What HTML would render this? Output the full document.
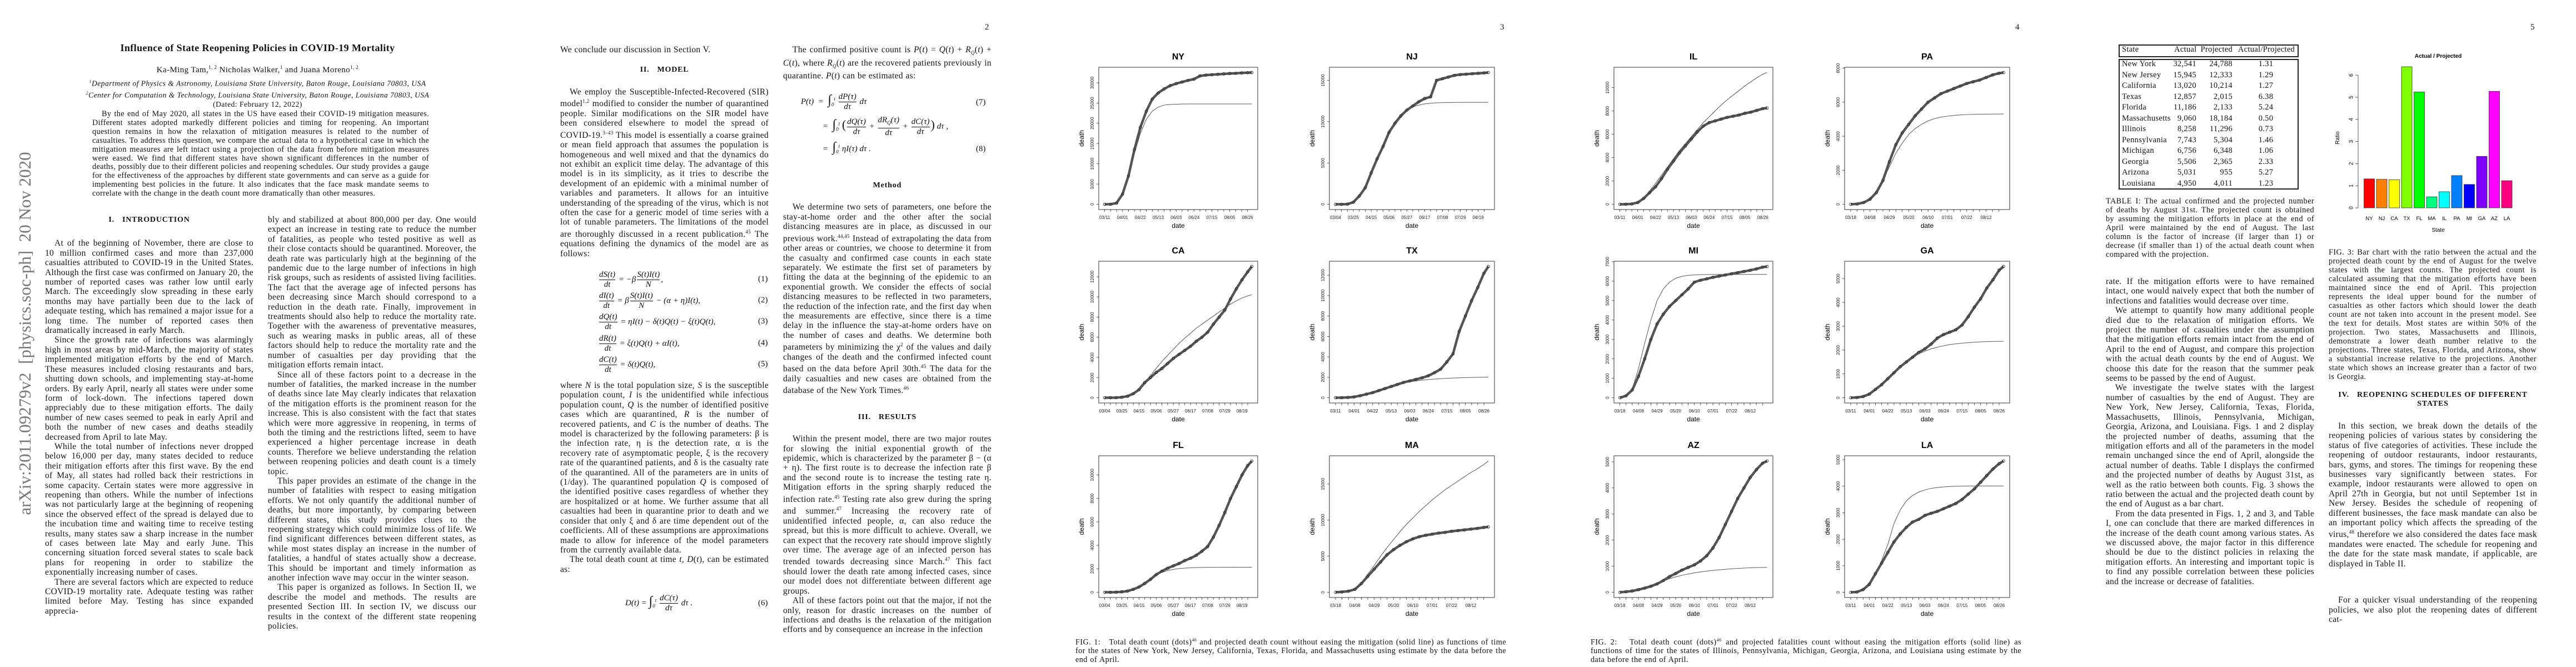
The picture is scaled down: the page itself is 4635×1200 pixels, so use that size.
<!DOCTYPE html>
<html lang="en">
<head>
<meta charset="utf-8">
<style>
html,body{margin:0;padding:0;background:#fff;}
body{width:4635px;height:1200px;position:relative;overflow:hidden;font-family:"Liberation Serif",serif;color:#111;}
.page{position:absolute;top:0;width:927px;height:1200px;background:#fff;}
.abs{position:absolute;}
.col{position:absolute;width:375px;font-size:15.5px;letter-spacing:0.3px;word-spacing:0.4px;line-height:17.4px;text-align:justify;}
.col p{margin:0;text-indent:1.1em;}
.col p.ni{text-indent:0;}
.sec{font-weight:bold;font-size:14px;text-align:center;letter-spacing:0.8px;text-indent:0 !important;}
.pnum{position:absolute;left:845px;top:41px;font-size:15px;}
.cap{position:absolute;font-size:14.2px;letter-spacing:0.45px;word-spacing:0.6px;line-height:15.6px;text-align:justify;}
.eq{position:absolute;font-size:15px;white-space:nowrap;font-style:italic;}
.frac{display:inline-block;vertical-align:middle;text-align:center;margin:0 2px;}
.frac span{display:block;line-height:17px;}
.frac span+span{border-top:1px solid #111;}
.num{position:absolute;font-size:15px;}
</style>
</head>
<body>

<!-- PAGE 1 -->
<div class="page" style="left:0">
  <div class="abs" style="left:45px;top:600px;transform:translate(-50%,-50%) rotate(-90deg);font-size:31px;color:#777;white-space:nowrap;">arXiv:2011.09279v2&nbsp; [physics.soc-ph]&nbsp; 20 Nov 2020</div>
  <div class="abs" style="left:0;width:927px;top:76px;text-align:center;font-weight:bold;font-size:18px;letter-spacing:0.4px;">Influence of State Reopening Policies in COVID-19 Mortality</div>
  <div class="abs" style="left:0;width:927px;top:116px;text-align:center;font-size:15px;letter-spacing:0.4px;">Ka-Ming Tam,<sup style="font-size:9px">1, 2</sup> Nicholas Walker,<sup style="font-size:9px">1</sup> and Juana Moreno<sup style="font-size:9px">1, 2</sup></div>
  <div class="abs" style="left:0;width:927px;top:138px;text-align:center;font-size:13.5px;letter-spacing:0.5px;line-height:17px;font-style:italic;"><sup style="font-size:8px">1</sup>Department of Physics &amp; Astronomy, Louisiana State University, Baton Rouge, Louisiana 70803, USA<br><sup style="font-size:8px">2</sup>Center for Computation &amp; Technology, Louisiana State University, Baton Rouge, Louisiana 70803, USA<br><span style="font-style:normal">(Dated: February 12, 2022)</span></div>
  <div class="abs" style="left:166px;width:606px;top:198px;font-size:14.2px;letter-spacing:0.35px;word-spacing:0.4px;line-height:15.9px;text-align:justify;text-indent:1.2em;">By the end of May 2020, all states in the US have eased their COVID-19 mitigation measures. Different states adopted markedly different policies and timing for reopening. An important question remains in how the relaxation of mitigation measures is related to the number of casualties. To address this question, we compare the actual data to a hypothetical case in which the mitigation measures are left intact using a projection of the data from before mitigation measures were eased. We find that different states have shown significant differences in the number of deaths, possibly due to their different policies and reopening schedules. Our study provides a gauge for the effectiveness of the approaches by different state governments and can serve as a guide for implementing best policies in the future. It also indicates that the face mask mandate seems to correlate with the change in the death count more dramatically than other measures.</div>
  <div class="col" style="left:81px;top:387px;">
    <p class="sec">I.&nbsp;&nbsp;&nbsp;INTRODUCTION</p>
    <div style="height:25px"></div>
    <p>At of the beginning of November, there are close to 10 million confirmed cases and more than 237,000 casualties attributed to COVID-19 in the United States. Although the first case was confirmed on January 20, the number of reported cases was rather low until early March. The exceedingly slow spreading in these early months may have partially been due to the lack of adequate testing, which has remained a major issue for a long time. The number of reported cases then dramatically increased in early March.</p>
    <p>Since the growth rate of infections was alarmingly high in most areas by mid-March, the majority of states implemented mitigation efforts by the end of March. These measures included closing restaurants and bars, shutting down schools, and implementing stay-at-home orders. By early April, nearly all states were under some form of lock-down. The infections tapered down appreciably due to these mitigation efforts. The daily number of new cases seemed to peak in early April and both the number of new cases and deaths steadily decreased from April to late May.</p>
    <p>While the total number of infections never dropped below 16,000 per day, many states decided to reduce their mitigation efforts after this first wave. By the end of May, all states had rolled back their restrictions in some capacity. Certain states were more aggressive in reopening than others. While the number of infections was not particularly large at the beginning of reopening since the observed effect of the spread is delayed due to the incubation time and waiting time to receive testing results, many states saw a sharp increase in the number of cases between late May and early June. This concerning situation forced several states to scale back plans for reopening in order to stabilize the exponentially increasing number of cases.</p>
    <p>There are several factors which are expected to reduce COVID-19 mortality rate. Adequate testing was rather limited before May. Testing has since expanded apprecia-</p>
  </div>
  <div class="col" style="left:482px;top:387px;">
    <p class="ni">bly and stabilized at about 800,000 per day. One would expect an increase in testing rate to reduce the number of fatalities, as people who tested positive as well as their close contacts should be quarantined. Moreover, the death rate was particularly high at the beginning of the pandemic due to the large number of infections in high risk groups, such as residents of assisted living facilities. The fact that the average age of infected persons has been decreasing since March should correspond to a reduction in the death rate. Finally, improvement in treatments should also help to reduce the mortality rate. Together with the awareness of preventative measures, such as wearing masks in public areas, all of these factors should help to reduce the mortality rate and the number of casualties per day providing that the mitigation efforts remain intact.</p>
    <p>Since all of these factors point to a decrease in the number of fatalities, the marked increase in the number of deaths since late May clearly indicates that relaxation of the mitigation efforts is the prominent reason for the increase. This is also consistent with the fact that states which were more aggressive in reopening, in terms of both the timing and the restrictions lifted, seem to have experienced a higher percentage increase in death counts. Therefore we believe understanding the relation between reopening policies and death count is a timely topic.</p>
    <p>This paper provides an estimate of the change in the number of fatalities with respect to easing mitigation efforts. We not only quantify the additional number of deaths, but more importantly, by comparing between different states, this study provides clues to the reopening strategy which could minimize loss of life. We find significant differences between different states, as while most states display an increase in the number of fatalities, a handful of states actually show a decrease. This should be important and timely information as another infection wave may occur in the winter season.</p>
    <p>This paper is organized as follows. In Section II, we describe the model and methods. The results are presented Section III. In section IV, we discuss our results in the context of the different state reopening policies.</p>
  </div>
</div>

<!-- PAGE 2 -->
<div class="page" style="left:927px">
  <div class="pnum">2</div>
  <div class="col" style="left:81px;top:81px;">
    <p class="ni">We conclude our discussion in Section V.</p>
    <div style="height:19px"></div>
    <p class="sec">II.&nbsp;&nbsp;&nbsp;MODEL</p>
    <div style="height:22px"></div>
    <p>We employ the Susceptible-Infected-Recovered (SIR) model<sup style="font-size:9px">1,2</sup> modified to consider the number of quarantined people. Similar modifications on the SIR model have been considered elsewhere to model the spread of COVID-19.<sup style="font-size:9px">3–43</sup> This model is essentially a coarse grained or mean field approach that assumes the population is homogeneous and well mixed and that the dynamics do not exhibit an explicit time delay. The advantage of this model is in its simplicity, as it tries to describe the development of an epidemic with a minimal number of variables and parameters. It allows for an intuitive understanding of the spreading of the virus, which is not often the case for a generic model of time series with a lot of tunable parameters. The limitations of the model are thoroughly discussed in a recent publication.<sup style="font-size:9px">45</sup> The equations defining the dynamics of the model are as follows:</p>
  </div>
  <div>
    <div class="eq" style="left:149px;top:486px;"><span class="frac"><span>dS(t)</span><span>dt</span></span> = −β<span class="frac"><span>S(t)I(t)</span><span>N</span></span>,</div>
    <div class="eq" style="left:149px;top:524px;"><span class="frac"><span>dI(t)</span><span>dt</span></span> = β<span class="frac"><span>S(t)I(t)</span><span>N</span></span> − (α + η)I(t),</div>
    <div class="eq" style="left:149px;top:562px;"><span class="frac"><span>dQ(t)</span><span>dt</span></span> = ηI(t) − δ(t)Q(t) − ξ(t)Q(t),</div>
    <div class="eq" style="left:149px;top:601px;"><span class="frac"><span>dR(t)</span><span>dt</span></span> = ξ(t)Q(t) + αI(t),</div>
    <div class="eq" style="left:149px;top:639px;"><span class="frac"><span>dC(t)</span><span>dt</span></span> = δ(t)Q(t),</div>
    <div class="num" style="left:437px;top:494px;">(1)</div>
    <div class="num" style="left:437px;top:532px;">(2)</div>
    <div class="num" style="left:437px;top:570px;">(3)</div>
    <div class="num" style="left:437px;top:609px;">(4)</div>
    <div class="num" style="left:437px;top:647px;">(5)</div>
  </div>
  <div class="col" style="left:81px;top:685px;">
    <p class="ni">where <i>N</i> is the total population size, <i>S</i> is the susceptible population count, <i>I</i> is the unidentified while infectious population count, <i>Q</i> is the number of identified positive cases which are quarantined, <i>R</i> is the number of recovered patients, and <i>C</i> is the number of deaths. The model is characterized by the following parameters: β is the infection rate, η is the detection rate, α is the recovery rate of asymptomatic people, ξ is the recovery rate of the quarantined patients, and δ is the casualty rate of the quarantined. All of the parameters are in units of (1/day). The quarantined population <i>Q</i> is composed of the identified positive cases regardless of whether they are hospitalized or at home. We further assume that all casualties had been in quarantine prior to death and we consider that only ξ and δ are time dependent out of the coefficients. All of these assumptions are approximations made to allow for inference of the model parameters from the currently available data.</p>
    <p>The total death count at time <i>t</i>, <i>D</i>(<i>t</i>), can be estimated as:</p>
  </div>
  <div class="eq" style="left:198px;top:1068px;">D(t) = <span style="font-size:24px;font-style:normal">∫</span><sub style="font-size:9px">0</sub><sup style="font-size:9px">t</sup> <span class="frac"><span>dC(τ)</span><span>dτ</span></span> dτ .</div>
  <div class="num" style="left:437px;top:1077px;">(6)</div>

  <div class="col" style="left:482px;top:81px;">
    <p>The confirmed positive count is <i>P</i>(<i>t</i>) = <i>Q</i>(<i>t</i>) + <i>R<sub style="font-size:9px">Q</sub></i>(<i>t</i>) + <i>C</i>(<i>t</i>), where <i>R<sub style="font-size:9px">Q</sub></i>(<i>t</i>) are the recovered patients previously in quarantine. <i>P</i>(<i>t</i>) can be estimated as:</p>
  </div>
  <div>
    <div class="eq" style="left:514px;top:166px;">P(t) &nbsp;= &nbsp;<span style="font-size:24px;font-style:normal">∫</span><sub style="font-size:9px">0</sub><sup style="font-size:9px">t</sup> <span class="frac"><span>dP(τ)</span><span>dτ</span></span> dτ</div>
    <div class="eq" style="left:553px;top:208px;">= &nbsp;<span style="font-size:24px;font-style:normal">∫</span><sub style="font-size:9px">0</sub><sup style="font-size:9px">t</sup> <span style="font-size:22px;font-style:normal">(</span><span class="frac"><span>dQ(τ)</span><span>dτ</span></span> + <span class="frac"><span>dR<sub style="font-size:9px">Q</sub>(τ)</span><span>dτ</span></span> + <span class="frac"><span>dC(τ)</span><span>dτ</span></span><span style="font-size:22px;font-style:normal">)</span> dτ ,</div>
    <div class="eq" style="left:553px;top:252px;">= &nbsp;<span style="font-size:24px;font-style:normal">∫</span><sub style="font-size:9px">0</sub><sup style="font-size:9px">t</sup> ηI(τ) dτ .</div>
    <div class="num" style="left:829px;top:176px;">(7)</div>
    <div class="num" style="left:829px;top:260px;">(8)</div>
  </div>
  <div class="col" style="left:482px;top:325px;">
    <p class="sec">Method</p>
    <div style="height:22px"></div>
    <p>We determine two sets of parameters, one before the stay-at-home order and the other after the social distancing measures are in place, as discussed in our previous work.<sup style="font-size:9px">44,45</sup> Instead of extrapolating the data from other areas or countries, we choose to determine it from the casualty and confirmed case counts in each state separately. We estimate the first set of parameters by fitting the data at the beginning of the epidemic to an exponential growth. We consider the effects of social distancing measures to be reflected in two parameters, the reduction of the infection rate, and the first day when the measurements are effective, since there is a time delay in the influence the stay-at-home orders have on the number of cases and deaths. We determine both parameters by minimizing the χ<sup style="font-size:9px">2</sup> of the values and daily changes of the death and the confirmed infected count based on the data before April 30th.<sup style="font-size:9px">45</sup> The data for the daily casualties and new cases are obtained from the database of the New York Times.<sup style="font-size:9px">46</sup></p>
    <div style="height:30px"></div>
    <p class="sec">III.&nbsp;&nbsp;&nbsp;RESULTS</p>
    <div style="height:22px"></div>
    <p>Within the present model, there are two major routes for slowing the initial exponential growth of the epidemic, which is characterized by the parameter β − (α + η). The first route is to decrease the infection rate β and the second route is to increase the testing rate η. Mitigation efforts in the spring sharply reduced the infection rate.<sup style="font-size:9px">45</sup> Testing rate also grew during the spring and summer.<sup style="font-size:9px">47</sup> Increasing the recovery rate of unidentified infected people, α, can also reduce the spread, but this is more difficult to achieve. Overall, we can expect that the recovery rate should improve slightly over time. The average age of an infected person has trended towards decreasing since March.<sup style="font-size:9px">47</sup> This fact should lower the death rate among infected cases, since our model does not differentiate between different age groups.</p>
    <p>All of these factors point out that the major, if not the only, reason for drastic increases on the number of infections and deaths is the relaxation of the mitigation efforts and by consequence an increase in the infection</p>
  </div>
</div>

<!-- PAGE 3 -->
<div class="page" style="left:1854px">
  <div class="pnum">3</div>
  <svg id="fig1" class="abs" style="left:0;top:0" width="927" height="1140"></svg>
  <div class="cap" style="left:81px;width:775px;top:1144px;">FIG. 1: &nbsp; Total death count (dots)<sup style="font-size:8px">46</sup> and projected death count without easing the mitigation (solid line) as functions of time for the states of New York, New Jersey, California, Texas, Florida, and Massachusetts using estimate by the data before the end of April.</div>
</div>

<!-- PAGE 4 -->
<div class="page" style="left:2781px">
  <div class="pnum">4</div>
  <svg id="fig2" class="abs" style="left:0;top:0" width="927" height="1140"></svg>
  <div class="cap" style="left:81px;width:775px;top:1144px;">FIG. 2: &nbsp; Total death count (dots)<sup style="font-size:8px">46</sup> and projected fatalities count without easing the mitigation efforts (solid line) as functions of time for the states of Illinois, Pennsylvania, Michigan, Georgia, Arizona, and Louisiana using estimate by the data before the end of April.</div>
</div>

<!-- PAGE 5 -->
<div class="page" style="left:3708px">
  <div class="pnum">5</div>
  <div class="abs" style="left:104px;top:80px;width:324px;height:260px;font-size:14.5px;letter-spacing:0.3px;">
    <div class="abs" style="left:0;top:0;width:320px;height:19px;border:2px double #222;"></div>
    <div class="abs" style="left:0;top:26px;width:320px;height:231px;border:2px double #222;"></div>
    <div id="tableRows"></div>
  </div>
  <div class="cap" style="left:81px;width:375px;top:354px;line-height:16px;">TABLE I: The actual confirmed and the projected number of deaths by August 31st. The projected count is obtained by assuming the mitigation efforts in place at the end of April were maintained by the end of August. The last column is the factor of increase (if larger than 1) or decrease (if smaller than 1) of the actual death count when compared with the projection.</div>
  <div class="col" style="left:81px;top:498px;">
    <p class="ni">rate. If the mitigation efforts were to have remained intact, one would naively expect that both the number of infections and fatalities would decrease over time.</p>
    <p>We attempt to quantify how many additional people died due to the relaxation of mitigation efforts. We project the number of casualties under the assumption that the mitigation efforts remain intact from the end of April to the end of August, and compare this projection with the actual death counts by the end of August. We choose this date for the reason that the summer peak seems to be passed by the end of August.</p>
    <p>We investigate the twelve states with the largest number of casualties by the end of August. They are New York, New Jersey, California, Texas, Florida, Massachusetts, Illinois, Pennsylvania, Michigan, Georgia, Arizona, and Louisiana. Figs. 1 and 2 display the projected number of deaths, assuming that the mitigation efforts and all of the parameters in the model remain unchanged since the end of April, alongside the actual number of deaths. Table I displays the confirmed and the projected number of deaths by August 31st, as well as the ratio between both counts. Fig. 3 shows the ratio between the actual and the projected death count by the end of August as a bar chart.</p>
    <p>From the data presented in Figs. 1, 2 and 3, and Table I, one can conclude that there are marked differences in the increase of the death count among various states. As we discussed above, the major factor in this difference should be due to the distinct policies in relaxing the mitigation efforts. An interesting and important topic is to find any possible correlation between these policies and the increase or decrease of fatalities.</p>
  </div>
  <svg id="fig3" class="abs" style="left:470px;top:80px" width="400" height="350"></svg>
  <div class="cap" style="left:482px;width:374px;top:446px;line-height:16px;">FIG. 3: Bar chart with the ratio between the actual and the projected death count by the end of August for the twelve states with the largest counts. The projected count is calculated assuming that the mitigation efforts have been maintained since the end of April. This projection represents the ideal upper bound for the number of casualties as other factors which should lower the death count are not taken into account in the present model. See the text for details. Most states are within 50% of the projection. Two states, Massachusetts and Illinois, demonstrate a lower death number relative to the projections. Three states, Texas, Florida, and Arizona, show a substantial increase relative to the projections. Another state which shows an increase greater than a factor of two is Georgia.</div>
  <div class="col" style="left:482px;top:703px;">
    <p class="sec" style="line-height:16px;">IV.&nbsp;&nbsp;&nbsp;REOPENING SCHEDULES OF DIFFERENT STATES</p>
    <div style="height:23px"></div>
    <p>In this section, we break down the details of the reopening policies of various states by considering the status of five categories of activities. These include the reopening of outdoor restaurants, indoor restaurants, bars, gyms, and stores. The timings for reopening these businesses vary significantly between states. For example, indoor restaurants were allowed to open on April 27th in Georgia, but not until September 1st in New Jersey. Besides the schedule of reopening of different businesses, the face mask mandate can also be an important policy which affects the spreading of the virus,<sup style="font-size:9px">48</sup> therefore we also considered the dates face mask mandates were enacted. The schedule for reopening and the date for the state mask mandate, if applicable, are displayed in Table II.</p>
    <div style="height:48px"></div>
    <p>For a quicker visual understanding of the reopening policies, we also plot the reopening dates of different cat-</p>
  </div>
</div>

<script>
// ---------- Line chart data (weekly values from the first tick date, last value = 08/31) ----------
const nyActual=[0,20,300,2500,7000,13500,19000,23000,26000,27500,28500,29300,29800,30200,30600,30900,31700,31900,32000,32100,32200,32300,32350,32450,32500,32541];
const nyProj=[0,20,300,2500,7000,12500,17500,21000,23000,24000,24500,24650,24720,24760,24780,24785,24788,24788,24788,24788,24788,24788,24788,24788,24788,24788];
const njActual=[0,0,20,250,1000,2000,3800,5500,7000,8700,9800,10700,11400,11900,12400,12800,13000,15000,15200,15400,15600,15700,15750,15800,15850,15900,15945];
const njProj=[0,0,20,250,1000,2000,3800,5500,7200,8800,10000,10900,11400,11800,12000,12150,12230,12280,12300,12315,12325,12330,12333,12333,12333,12333,12333];
const caActual=[0,0,10,50,150,400,800,1500,2000,2500,2900,3400,3900,4300,4700,5100,5600,6000,6500,7300,8000,8700,9800,10800,11700,12500,13020];
const caProj=[0,0,10,50,150,400,850,1500,2200,2900,3600,4200,4800,5400,5900,6400,6900,7300,7700,8100,8500,8900,9300,9600,9900,10100,10214];
const txActual=[0,5,30,80,200,350,500,700,900,1100,1300,1500,1650,1800,1950,2150,2450,2800,3500,4300,6500,8000,9500,10800,12200,12857];
const txProj=[0,5,30,80,200,350,500,700,900,1100,1300,1450,1550,1650,1720,1780,1830,1870,1900,1930,1950,1970,1985,2000,2010,2015];
const flActual=[0,0,10,40,100,250,450,750,1100,1500,1800,2050,2250,2450,2700,2900,3150,3500,3900,4700,5700,6800,8000,9000,10000,10800,11186];
const flProj=[0,0,10,40,100,250,450,750,1100,1450,1700,1850,1950,2020,2060,2090,2105,2115,2120,2125,2128,2130,2131,2132,2133,2133,2133];
const maActual=[0,50,150,400,1200,2200,3200,4200,5200,5900,6500,7000,7400,7700,7900,8050,8200,8300,8450,8550,8650,8750,8850,8980,9060];
const maProj=[0,50,150,450,1300,2500,3700,5000,6200,7300,8400,9400,10300,11200,12000,12800,13500,14200,14800,15400,16000,16600,17100,17700,18184];
const ilActual=[0,5,30,150,500,1000,1500,2200,3000,3700,4400,5000,5600,6200,6700,7000,7150,7300,7450,7550,7650,7800,7900,8050,8200,8258];
const ilProj=[0,5,30,150,550,1150,1800,2500,3200,3900,4600,5200,5800,6400,7000,7500,8000,8500,8950,9350,9750,10150,10500,10850,11150,11296];
const paActual=[0,20,100,300,700,1400,2500,3500,4200,4700,5200,5600,6000,6250,6500,6650,6800,6950,7100,7200,7300,7450,7600,7700,7743];
const paProj=[0,20,100,300,700,1400,2200,3000,3600,4100,4450,4700,4900,5030,5120,5180,5220,5250,5270,5285,5293,5298,5301,5303,5304];
const miActual=[0,100,400,1100,2000,3000,3800,4300,4700,5000,5300,5600,5950,6050,6120,6200,6260,6320,6380,6440,6500,6560,6630,6720,6756];
const miProj=[0,100,450,1500,2800,4000,5000,5600,5950,6150,6250,6300,6320,6335,6340,6345,6347,6348,6348,6348,6348,6348,6348,6348,6348];
const gaActual=[0,10,50,150,350,550,800,1050,1300,1500,1700,1900,2050,2250,2500,2650,2750,2850,3050,3400,3800,4150,4600,4950,5350,5506];
const gaProj=[0,10,50,150,350,550,800,1050,1300,1500,1700,1850,1950,2050,2120,2180,2230,2260,2290,2310,2330,2345,2355,2360,2364,2365];
const azActual=[0,20,50,100,160,230,320,450,600,720,850,950,1050,1200,1400,1700,2100,2600,3100,3600,4000,4400,4700,4950,5031];
const azProj=[0,20,50,100,160,230,320,430,520,590,650,700,745,780,810,840,860,880,900,915,928,938,946,952,955];
const laActual=[0,10,100,300,700,1100,1500,1900,2200,2450,2650,2750,2900,2980,3050,3150,3250,3350,3500,3700,3900,4150,4400,4650,4850,4950];
const laProj=[0,10,100,300,700,1200,1800,2600,3100,3450,3650,3780,3860,3920,3950,3975,3990,4000,4005,4008,4010,4011,4011,4011,4011,4011];

const ticksMar11=["03/11","04/01","04/22","05/13","06/03","06/24","07/15","08/05","08/26"];
const ticksMar04=["03/04","03/25","04/15","05/06","05/27","06/17","07/08","07/29","08/19"];
const ticksMar18=["03/18","04/08","04/29","05/20","06/10","07/01","07/22","08/12"];
const yTicks30k=[0,5000,10000,15000,20000,25000,30000];
const yTicks15k=[0,5000,10000,15000];
const yTicks12k=[0,2000,4000,6000,8000,10000,12000];
const yTicks10k=[0,2000,4000,6000,8000,10000];
const yTicks8k=[0,2000,4000,6000,8000];
const yTicks7k=[0,1000,2000,3000,4000,5000,6000,7000];
const yTicks5k=[0,1000,2000,3000,4000,5000];
const endDate="08/31";

// ---------- Bar chart data ----------
const barStates=["NY","NJ","CA","TX","FL","MA","IL","PA","MI","GA","AZ","LA"];
const barRatios=[1.31,1.29,1.27,6.38,5.24,0.50,0.73,1.46,1.06,2.33,5.27,1.23];
const barTicks=[0,1,2,3,4,5,6];
const barColors=["#ff0000","#ff8000","#ffff00","#80ff00","#00ff00","#00ff80","#00ffff","#0080ff","#0000ff","#8000ff","#ff00ff","#ff0080"];

// ---------- Table data ----------
const tableStates=["New York","New Jersey","California","Texas","Florida","Massachusetts","Illinois","Pennsylvania","Michigan","Georgia","Arizona","Louisiana"];
const tableActual=["32,541","15,945","13,020","12,857","11,186","9,060","8,258","7,743","6,756","5,506","5,031","4,950"];
const tableProjected=["24,788","12,333","10,214","2,015","2,133","18,184","11,296","5,304","6,348","2,365","955","4,011"];
const tableRatio=["1.31","1.29","1.27","6.38","5.24","0.50","0.73","1.46","1.06","2.33","5.27","1.23"];

const NS="http://www.w3.org/2000/svg";
function mk(tag,attrs,parent){const e=document.createElementNS(NS,tag);for(const k in attrs)e.setAttribute(k,attrs[k]);if(parent)parent.appendChild(e);return e;}
function dayOf(s){const p=s.split('/').map(Number);return Date.UTC(2020,p[0]-1,p[1])/864e5;}

function drawPanel(svg,title,tickLabels,yTicks,actual,proj,bx,by,bw,bh){
  const g=mk('g',{},svg);
  
  
  const n=actual.length;
  const start=dayOf(tickLabels[0]);
  const days=actual.map((v,i)=>i<n-1?start+7*i:dayOf(endDate));
  const x0=days[0],x1=days[n-1],xp=(x1-x0)*0.04;
  const xs=d=>bx+(d-(x0-xp))/((x1-x0)+2*xp)*bw;
  const ymax=Math.max(...actual,...proj),yp=ymax*0.04;
  const ys=v=>by+bh-(v+yp)/(ymax+2*yp)*bh;
  const box=mk('rect',{x:bx,y:by,width:bw,height:bh,fill:'none',stroke:'#333','stroke-width':1},g);
  
  
  const t=mk('text',{x:bx+bw/2,y:by-14,'text-anchor':'middle','font-family':'Liberation Sans, sans-serif','font-weight':'bold','font-size':16},g);
  t.textContent=title;
  
  
  for(let d=start,k=0;d<=x1;d+=7,k++){
    const x=xs(d);
    mk('line',{x1:x,x2:x,y1:by+bh,y2:by+bh+4,stroke:'#333','stroke-width':0.8},g);
    if(k%3===0&&tickLabels[k/3]){
      const lb=mk('text',{x:x,y:by+bh+17,'text-anchor':'middle','font-family':'Liberation Sans, sans-serif','font-size':8,fill:'#222'},g);
      lb.textContent=tickLabels[k/3];
      
      
    }
  }
  const xl=mk('text',{x:bx+bw/2,y:by+bh+33,'text-anchor':'middle','font-family':'Liberation Sans, sans-serif','font-size':12},g);
  xl.textContent='date';
  
  
  yTicks.forEach(v=>{
    const y=ys(v);
    mk('line',{x1:bx,x2:bx-4,y1:y,y2:y,stroke:'#333','stroke-width':0.8},g);
    const lb=mk('text',{x:bx-9,y:y,'text-anchor':'middle','font-family':'Liberation Sans, sans-serif','font-size':8,fill:'#222',transform:'rotate(-90 '+(bx-9)+' '+y+')'},g);
    lb.textContent=String(v);
    
    
  });
  const yl=mk('text',{x:bx-27,y:by+bh/2,'text-anchor':'middle','font-family':'Liberation Sans, sans-serif','font-size':12,transform:'rotate(-90 '+(bx-27)+' '+(by+bh/2)+')'},g);
  yl.textContent='death';
  
  
  const pl=mk('polyline',{points:days.map((d,i)=>xs(d)+','+ys(proj[i])).join(' '),fill:'none',stroke:'#555','stroke-width':1},g);
  
  
  const al=mk('polyline',{points:days.map((d,i)=>xs(d)+','+ys(actual[i])).join(' '),fill:'none',stroke:'#555','stroke-width':4.5,'stroke-linejoin':'round'},g);
  
  
  actual.forEach((v,i)=>{
    const c=mk('circle',{cx:xs(days[i]),cy:ys(v),r:2.4,fill:'none',stroke:'#222','stroke-width':0.8},g);
    
    
  });
}

const colX=[[123,286],[538,297]];
const rowY=[[121,256],[470,255],[820,255]];
const f1=document.getElementById('fig1'),f2=document.getElementById('fig2');
drawPanel(f1,'NY',ticksMar11,yTicks30k,nyActual,nyProj,colX[0][0],rowY[0][0],colX[0][1],rowY[0][1]);
drawPanel(f1,'NJ',ticksMar04,yTicks15k,njActual,njProj,colX[1][0],rowY[0][0],colX[1][1],rowY[0][1]);
drawPanel(f1,'CA',ticksMar04,yTicks12k,caActual,caProj,colX[0][0],rowY[1][0],colX[0][1],rowY[1][1]);
drawPanel(f1,'TX',ticksMar11,yTicks12k,txActual,txProj,colX[1][0],rowY[1][0],colX[1][1],rowY[1][1]);
drawPanel(f1,'FL',ticksMar04,yTicks10k,flActual,flProj,colX[0][0],rowY[2][0],colX[0][1],rowY[2][1]);
drawPanel(f1,'MA',ticksMar18,yTicks15k,maActual,maProj,colX[1][0],rowY[2][0],colX[1][1],rowY[2][1]);
drawPanel(f2,'IL',ticksMar11,yTicks10k,ilActual,ilProj,colX[0][0],rowY[0][0],colX[0][1],rowY[0][1]);
drawPanel(f2,'PA',ticksMar18,yTicks8k,paActual,paProj,colX[1][0],rowY[0][0],colX[1][1],rowY[0][1]);
drawPanel(f2,'MI',ticksMar18,yTicks7k,miActual,miProj,colX[0][0],rowY[1][0],colX[0][1],rowY[1][1]);
drawPanel(f2,'GA',ticksMar11,yTicks5k,gaActual,gaProj,colX[1][0],rowY[1][0],colX[1][1],rowY[1][1]);
drawPanel(f2,'AZ',ticksMar18,yTicks5k,azActual,azProj,colX[0][0],rowY[2][0],colX[0][1],rowY[2][1]);
drawPanel(f2,'LA',ticksMar11,yTicks5k,laActual,laProj,colX[1][0],rowY[2][0],colX[1][1],rowY[2][1]);

// ---------- Bar chart (svg origin at page x=470, y=80) ----------
(function(){
  const svg=document.getElementById('fig3');
  const axisX=65, y0=294, unit=39.8, first=85, step=22.5, bw=19;
  const ys=v=>y0-v*unit;
  const tt=mk('text',{x:209,y:24,'text-anchor':'middle','font-family':'Liberation Sans, sans-serif','font-weight':'bold','font-size':10},svg);
  tt.textContent='Actual / Projected';
  
  
  mk('line',{x1:axisX,x2:axisX,y1:ys(barTicks[0]),y2:ys(barTicks[barTicks.length-1]),stroke:'#333','stroke-width':0.8},svg);
  barTicks.forEach(v=>{
    mk('line',{x1:axisX,x2:axisX-5,y1:ys(v),y2:ys(v),stroke:'#333','stroke-width':0.8},svg);
    const lb=mk('text',{x:axisX-12,y:ys(v),'text-anchor':'middle','dominant-baseline':'middle','font-family':'Liberation Sans, sans-serif','font-size':10,transform:'rotate(-90 '+(axisX-12)+' '+ys(v)+')'},svg);
    lb.textContent=String(v);
    
    
  });
  const yl=mk('text',{x:31,y:168,'text-anchor':'middle','font-family':'Liberation Sans, sans-serif','font-size':10,transform:'rotate(-90 31 168)'},svg);
  yl.textContent='Ratio';
  
  
  barRatios.forEach((v,i)=>{
    const x=first+step*i-bw/2;
    const r=mk('rect',{x:x,y:ys(v),width:bw,height:v*unit,fill:barColors[i],stroke:'#333','stroke-width':0.8},svg);
    
    
    const lb=mk('text',{x:first+step*i,y:316,'text-anchor':'middle','font-family':'Liberation Sans, sans-serif','font-size':9.5},svg);
    lb.textContent=barStates[i];
    
    
  });
  const xl=mk('text',{x:209,y:337,'text-anchor':'middle','font-family':'Liberation Sans, sans-serif','font-size':10},svg);
  xl.textContent='State';
  
  
})();

// ---------- Table rows ----------
(function(){
  const host=document.getElementById('tableRows');
  function cell(txt,left,top,align,w){
    const d=document.createElement('div');
    d.className='abs';
    d.style.cssText='left:'+left+'px;top:'+top+'px;width:'+w+'px;text-align:'+align+';white-space:nowrap;';
    d.textContent=txt;
    host.appendChild(d);
    return d;
  }
  const hdr=[cell('State',6,1,'left',80),cell('Actual',100,1,'right',40),cell('Projected',140,1,'right',65),cell('Actual/Projected',210,1,'center',112)];
  hdr.forEach(h=>{});
  tableStates.forEach((s,i)=>{
    const top=27+19.5*i;
    const a=cell(s,6,top,'left',110);
    
    
    const b=cell(tableActual[i],90,top,'right',50);
    
    
    const c=cell(tableProjected[i],150,top,'right',55);
    
    
    const d=cell(tableRatio[i],240,top,'center',50);
    
    
  });
})();
</script>
</body>
</html>
